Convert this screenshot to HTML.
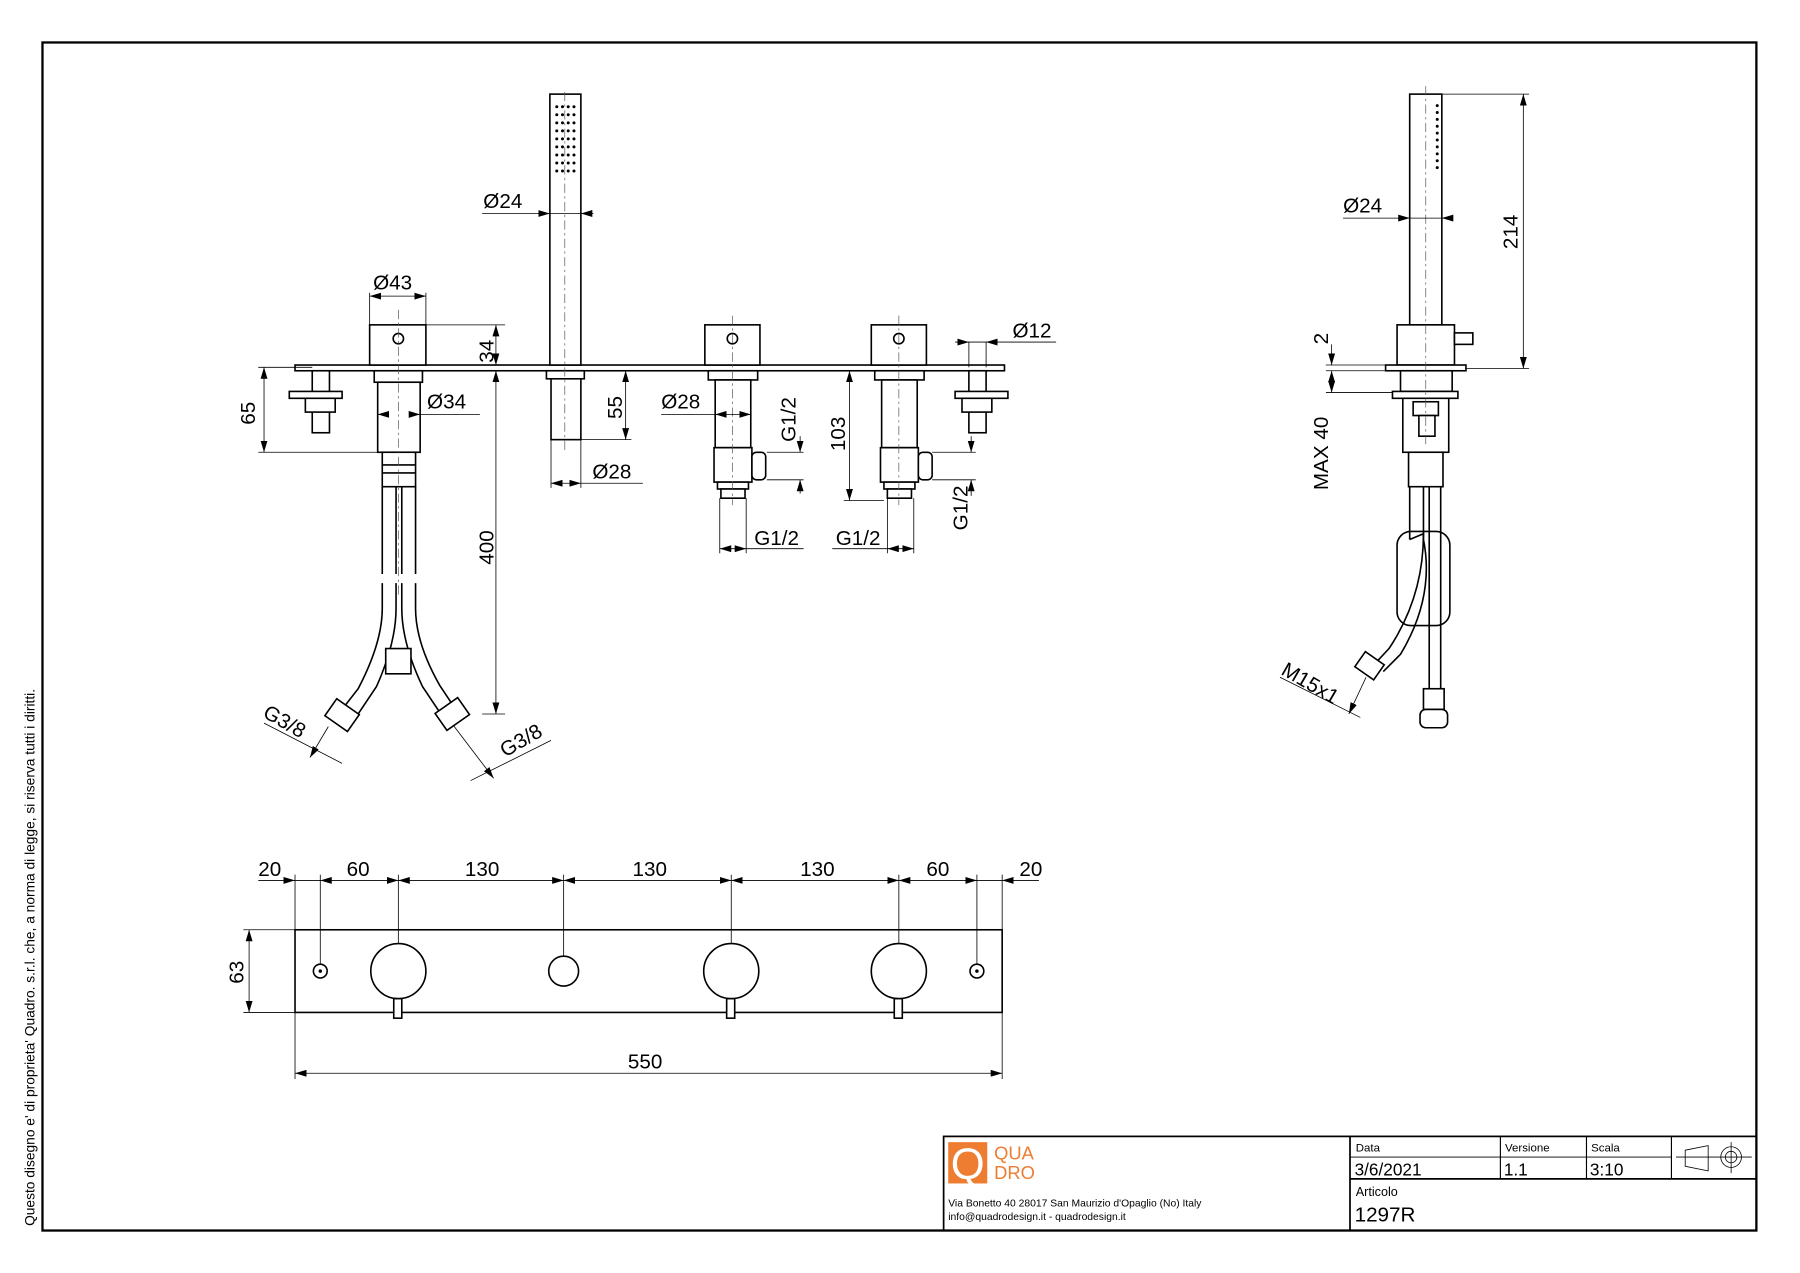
<!DOCTYPE html>
<html><head><meta charset="utf-8"><style>
html,body{margin:0;padding:0;background:#fff;}
svg{display:block;}
text{font-family:"Liberation Sans",sans-serif;fill:#000;}
.o{fill:none;stroke:#000;stroke-width:1.4}
.w{fill:#fff;stroke:#000;stroke-width:1.4}
.d{fill:none;stroke:#000;stroke-width:0.7}
.c{fill:none;stroke:#555;stroke-width:0.6;stroke-dasharray:8 3 2 3}
.t{font-size:18px}
</style></head><body>
<svg width="1800" height="1273" viewBox="0 0 1568 1109" preserveAspectRatio="none" xmlns="http://www.w3.org/2000/svg">
<defs>
<marker id="a" viewBox="0 0 10 6" refX="10" refY="3" markerWidth="10" markerHeight="6" orient="auto-start-reverse" markerUnits="userSpaceOnUse"><path d="M0,0L10,3L0,6z" fill="#000"/></marker>
</defs>
<rect x="37" y="37" width="1493" height="1035" fill="none" stroke="#000" stroke-width="2"/>
<text transform="translate(30,1068) rotate(-90)" font-size="12">Questo disegno e' di proprieta' Quadro. s.r.l. che, a norma di legge, si riserva tutti i diritti.</text>

<!-- title block -->
<rect x="822" y="990" width="708" height="82" fill="none" stroke="#000" stroke-width="1.5"/>
<line x1="1176" y1="990" x2="1176" y2="1072" stroke="#000" stroke-width="1.5"/>
<line x1="1307" y1="990" x2="1307" y2="1027" stroke="#000"/>
<line x1="1382" y1="990" x2="1382" y2="1027" stroke="#000"/>
<line x1="1456" y1="990" x2="1456" y2="1027" stroke="#000"/>
<line x1="1176" y1="1008" x2="1456" y2="1008" stroke="#000" stroke-width="0.8"/>
<line x1="1176" y1="1027" x2="1530" y2="1027" stroke="#000" stroke-width="1.5"/>
<text x="1181" y="1003" font-size="10">Data</text>
<text x="1311" y="1003" font-size="10">Versione</text>
<text x="1386" y="1003" font-size="10">Scala</text>
<text x="1180" y="1024" font-size="15">3/6/2021</text>
<text x="1310" y="1024" font-size="15">1.1</text>
<text x="1385" y="1024" font-size="15">3:10</text>
<text x="1181" y="1042" font-size="11">Articolo</text>
<text x="1180" y="1064" font-size="18">1297R</text>
<path d="M1468,1002 L1488,998 L1488,1020 L1468,1016 Z M1460,1008 H1526" class="d"/>
<circle cx="1508" cy="1008" r="9" class="d"/><circle cx="1508" cy="1008" r="5" class="d"/>
<line x1="1508" y1="995" x2="1508" y2="1022" class="d"/>
<rect x="826" y="995" width="34" height="36" fill="#ee7d32"/>
<text x="843" y="1027" font-size="38" text-anchor="middle" style="fill:#fff">Q</text>
<text x="866" y="1010" font-size="16" style="fill:#ee7d32">QUA</text>
<text x="866" y="1027" font-size="16" style="fill:#ee7d32">DRO</text>
<text x="826" y="1051" font-size="9">Via Bonetto 40  28017 San Maurizio d'Opaglio (No) Italy</text>
<text x="826" y="1063" font-size="9">info@quadrodesign.it  -  quadrodesign.it</text>

<!-- FRONT VIEW -->
<rect x="257" y="318" width="618" height="5" class="w"/>
<rect x="272" y="323" width="15" height="54" class="w"/>
<rect x="252" y="341" width="46" height="6" class="w"/>
<rect x="266" y="347" width="26" height="12" class="w"/>
<rect x="844" y="323" width="15" height="54" class="w"/>
<rect x="832" y="341" width="46" height="6" class="w"/>
<rect x="838" y="347" width="26" height="12" class="w"/>
<rect x="322" y="283" width="49" height="35" class="w"/>
<circle cx="347" cy="295" r="4.5" class="o"/>
<rect x="326" y="323" width="42" height="10" class="w"/>
<rect x="329" y="333" width="37" height="61" class="w"/>
<rect x="333" y="394" width="29" height="30" class="w"/>
<line x1="333" y1="405" x2="362" y2="405" class="o"/><line x1="333" y1="412" x2="362" y2="412" class="o"/>
<path d="M333,424 V500 M345,424 V500 M350,424 V500 M362,424 V500" class="o"/>
<path d="M333,508 V530 Q333,560 312,600 L298,618 M345,508 V530 Q345,560 328,598 L312,622" class="o"/>
<path d="M350,508 V530 Q350,560 368,598 L384,622 M362,508 V530 Q362,560 383,597 L397,618" class="o"/>
<rect x="336" y="565" width="22" height="22" class="w"/>
<g transform="translate(298,623) rotate(35)"><rect x="-12" y="-9" width="24" height="18" class="w"/></g>
<g transform="translate(394,622) rotate(-35)"><rect x="-12" y="-9" width="24" height="18" class="w"/></g>
<line x1="347" y1="270" x2="347" y2="520" class="c"/>
<rect x="479" y="82" width="27" height="236" class="w"/>
<g fill="#000">
<circle cx="485" cy="93" r="1.3"/><circle cx="490" cy="93" r="1.3"/><circle cx="495" cy="93" r="1.3"/><circle cx="500" cy="93" r="1.3"/>
<circle cx="485" cy="100" r="1.3"/><circle cx="490" cy="100" r="1.3"/><circle cx="495" cy="100" r="1.3"/><circle cx="500" cy="100" r="1.3"/>
<circle cx="485" cy="107" r="1.3"/><circle cx="490" cy="107" r="1.3"/><circle cx="495" cy="107" r="1.3"/><circle cx="500" cy="107" r="1.3"/>
<circle cx="485" cy="114" r="1.3"/><circle cx="490" cy="114" r="1.3"/><circle cx="495" cy="114" r="1.3"/><circle cx="500" cy="114" r="1.3"/>
<circle cx="485" cy="121" r="1.3"/><circle cx="490" cy="121" r="1.3"/><circle cx="495" cy="121" r="1.3"/><circle cx="500" cy="121" r="1.3"/>
<circle cx="485" cy="128" r="1.3"/><circle cx="490" cy="128" r="1.3"/><circle cx="495" cy="128" r="1.3"/><circle cx="500" cy="128" r="1.3"/>
<circle cx="485" cy="135" r="1.3"/><circle cx="490" cy="135" r="1.3"/><circle cx="495" cy="135" r="1.3"/><circle cx="500" cy="135" r="1.3"/>
<circle cx="485" cy="142" r="1.3"/><circle cx="490" cy="142" r="1.3"/><circle cx="495" cy="142" r="1.3"/><circle cx="500" cy="142" r="1.3"/>
<circle cx="485" cy="149" r="1.3"/><circle cx="490" cy="149" r="1.3"/><circle cx="495" cy="149" r="1.3"/><circle cx="500" cy="149" r="1.3"/>
</g>
<rect x="476" y="323" width="33" height="7" class="w"/>
<rect x="480" y="330" width="26" height="53" class="w"/>
<line x1="492" y1="80" x2="492" y2="395" class="c"/>
<g id="v">
<rect x="614" y="283" width="48" height="35" class="w"/>
<circle cx="638" cy="295" r="4.5" class="o"/>
<rect x="617" y="323" width="43" height="8" class="w"/>
<rect x="623" y="331" width="31" height="59" class="w"/>
<rect x="622" y="390" width="33" height="30" class="w"/>
<rect x="655" y="394" width="12" height="24" rx="4" class="w"/>
<rect x="625" y="420" width="27" height="6" class="w"/>
<rect x="628" y="426" width="21" height="8" class="w"/>
<line x1="638" y1="275" x2="638" y2="440" class="c"/>
</g>
<use href="#v" transform="translate(145,0)"/>

<g class="d">
<line x1="322" y1="255" x2="322" y2="283"/><line x1="371" y1="255" x2="371" y2="283"/>
<line x1="322" y1="258" x2="371" y2="258" marker-start="url(#a)" marker-end="url(#a)"/>
<line x1="371" y1="283" x2="440" y2="283"/><line x1="432" y1="283" x2="432" y2="318" marker-start="url(#a)" marker-end="url(#a)"/>
<line x1="432" y1="323" x2="432" y2="622" marker-start="url(#a)" marker-end="url(#a)"/><line x1="420" y1="622" x2="440" y2="622"/>
<line x1="225" y1="320" x2="272" y2="320"/><line x1="225" y1="394" x2="329" y2="394"/>
<line x1="230" y1="320" x2="230" y2="394" marker-start="url(#a)" marker-end="url(#a)"/>
<line x1="360" y1="361" x2="418" y2="361"/><line x1="360" y1="361" x2="366" y2="361" marker-end="url(#a)"/><line x1="335" y1="361" x2="329" y2="361" marker-end="url(#a)"/>
<line x1="420" y1="186" x2="517" y2="186"/><line x1="470" y1="186" x2="479" y2="186" marker-end="url(#a)"/><line x1="515" y1="186" x2="506" y2="186" marker-end="url(#a)"/>
<line x1="509" y1="323" x2="550" y2="323"/><line x1="506" y1="383" x2="550" y2="383"/>
<line x1="545" y1="323" x2="545" y2="383" marker-start="url(#a)" marker-end="url(#a)"/>
<line x1="480" y1="383" x2="480" y2="425"/><line x1="506" y1="383" x2="506" y2="425"/>
<line x1="480" y1="421" x2="506" y2="421" marker-start="url(#a)" marker-end="url(#a)"/><line x1="506" y1="421" x2="560" y2="421"/>
<line x1="576" y1="361" x2="654" y2="361"/><line x1="630" y1="361" x2="623" y2="361" marker-end="url(#a)"/><line x1="646" y1="361" x2="654" y2="361" marker-end="url(#a)"/>
<line x1="668" y1="394" x2="700" y2="394"/><line x1="668" y1="418" x2="700" y2="418"/>
<line x1="697" y1="380" x2="697" y2="394" marker-end="url(#a)"/><line x1="697" y1="430" x2="697" y2="418" marker-end="url(#a)"/>
<line x1="627" y1="434" x2="627" y2="482"/><line x1="650" y1="434" x2="650" y2="482"/>
<line x1="627" y1="478" x2="650" y2="478" marker-start="url(#a)" marker-end="url(#a)"/><line x1="650" y1="478" x2="700" y2="478"/>
<line x1="773" y1="434" x2="773" y2="482"/><line x1="796" y1="434" x2="796" y2="482"/>
<line x1="773" y1="478" x2="796" y2="478" marker-start="url(#a)" marker-end="url(#a)"/><line x1="725" y1="478" x2="773" y2="478"/>
<line x1="740" y1="323" x2="768" y2="323"/><line x1="735" y1="436" x2="770" y2="436"/>
<line x1="740" y1="323" x2="740" y2="436" marker-start="url(#a)" marker-end="url(#a)"/>
<line x1="812" y1="394" x2="850" y2="394"/><line x1="812" y1="418" x2="850" y2="418"/>
<line x1="846" y1="380" x2="846" y2="394" marker-end="url(#a)"/><line x1="846" y1="432" x2="846" y2="418" marker-end="url(#a)"/>
<line x1="832" y1="298" x2="920" y2="298"/><line x1="835" y1="298" x2="844" y2="298" marker-end="url(#a)"/><line x1="868" y1="298" x2="859" y2="298" marker-end="url(#a)"/>
<line x1="844" y1="298" x2="844" y2="320"/><line x1="859" y1="298" x2="859" y2="320"/>
<line x1="230" y1="630" x2="298" y2="665" /><line x1="286" y1="633" x2="270" y2="660" marker-end="url(#a)"/>
<line x1="395" y1="632" x2="430" y2="678" marker-end="url(#a)"/><line x1="410" y1="680" x2="480" y2="645"/>
</g>
<text class="t" x="325" y="252">Ø43</text>
<text class="t" transform="translate(430,316) rotate(-90)">34</text>
<text class="t" transform="translate(222,370) rotate(-90)">65</text>
<text class="t" x="372" y="356">Ø34</text>
<text class="t" x="421" y="181">Ø24</text>
<text class="t" transform="translate(542,365) rotate(-90)">55</text>
<text class="t" x="516" y="417">Ø28</text>
<text class="t" transform="translate(430,492) rotate(-90)">400</text>
<text class="t" x="576" y="356">Ø28</text>
<text class="t" transform="translate(693,385) rotate(-90)">G1/2</text>
<text class="t" x="657" y="475">G1/2</text>
<text class="t" x="728" y="475">G1/2</text>
<text class="t" transform="translate(736,393) rotate(-90)">103</text>
<text class="t" transform="translate(843,462) rotate(-90)">G1/2</text>
<text class="t" x="882" y="294">Ø12</text>
<text class="t" transform="translate(228,624) rotate(30)">G3/8</text>
<text class="t" transform="translate(440,660) rotate(-30)">G3/8</text>

<!-- SIDE VIEW -->
<rect x="1228" y="82" width="28" height="201" class="w"/>
<g fill="#000"><circle cx="1252" cy="92" r="1.3"/><circle cx="1252" cy="98" r="1.3"/><circle cx="1252" cy="104" r="1.3"/><circle cx="1252" cy="110" r="1.3"/><circle cx="1252" cy="116" r="1.3"/><circle cx="1252" cy="122" r="1.3"/><circle cx="1252" cy="128" r="1.3"/><circle cx="1252" cy="134" r="1.3"/><circle cx="1252" cy="140" r="1.3"/><circle cx="1252" cy="146" r="1.3"/></g>
<rect x="1217" y="283" width="50" height="35" class="w"/>
<rect x="1267" y="290" width="16" height="10" class="w"/>
<rect x="1207" y="318" width="70" height="5" class="w"/>
<rect x="1220" y="323" width="45" height="18" class="w"/>
<rect x="1213" y="341" width="57" height="6" class="w"/>
<rect x="1222" y="347" width="40" height="47" class="w"/>
<rect x="1231" y="350" width="22" height="12" class="w"/>
<rect x="1236" y="362" width="14" height="18" class="w"/>
<rect x="1227" y="394" width="30" height="30" class="w"/>
<path d="M1228,424 V470 M1240,424 V470 M1245,424 V600 M1255,424 V600" class="o"/>
<rect x="1217" y="463" width="46" height="82" rx="12" class="o"/>
<path d="M1228,470 L1240,465 Q1240,520 1210,565 L1196,580 M1240,470 Q1250,520 1220,570 L1205,585" class="o"/>
<g transform="translate(1193,580) rotate(35)"><rect x="-10" y="-8" width="20" height="16" class="w"/></g>
<rect x="1240" y="600" width="18" height="18" class="w"/>
<rect x="1237" y="618" width="24" height="16" rx="5" class="w"/>
<line x1="1242" y1="75" x2="1242" y2="390" class="c"/>
<g class="d">
<line x1="1256" y1="82" x2="1332" y2="82"/><line x1="1277" y1="321" x2="1332" y2="321"/>
<line x1="1327" y1="82" x2="1327" y2="321" marker-start="url(#a)" marker-end="url(#a)"/>
<line x1="1170" y1="190" x2="1256" y2="190"/><line x1="1218" y1="190" x2="1228" y2="190" marker-end="url(#a)"/><line x1="1266" y1="190" x2="1256" y2="190" marker-end="url(#a)"/>
<line x1="1155" y1="318" x2="1207" y2="318"/><line x1="1155" y1="323" x2="1207" y2="323"/><line x1="1155" y1="342" x2="1213" y2="342"/>
<line x1="1160" y1="300" x2="1160" y2="318" marker-end="url(#a)"/><line x1="1160" y1="323" x2="1160" y2="342" marker-start="url(#a)" marker-end="url(#a)"/>
<line x1="1115" y1="590" x2="1185" y2="625"/><line x1="1190" y1="590" x2="1175" y2="622" marker-end="url(#a)"/>
</g>
<text class="t" x="1170" y="185">Ø24</text>
<text class="t" transform="translate(1322,217) rotate(-90)">214</text>
<text class="t" transform="translate(1157,300) rotate(-90)">2</text>
<text class="t" transform="translate(1157,427) rotate(-90)">MAX  40</text>
<text class="t" transform="translate(1115,587) rotate(30)">M15x1</text>

<!-- PLAN VIEW -->
<rect x="257" y="810" width="616" height="72" class="o"/>
<circle cx="279" cy="846" r="6" class="o"/><circle cx="279" cy="846" r="1.5" fill="#000"/>
<circle cx="851" cy="846" r="6" class="o"/><circle cx="851" cy="846" r="1.5" fill="#000"/>
<circle cx="347" cy="846" r="24" class="o"/><rect x="343" y="870" width="7" height="17" class="w"/>
<circle cx="491" cy="846" r="13" class="o"/>
<circle cx="637" cy="846" r="24" class="o"/><rect x="633" y="870" width="7" height="17" class="w"/>
<circle cx="783" cy="846" r="24" class="o"/><rect x="779" y="870" width="7" height="17" class="w"/>
<g class="d">
<line x1="257" y1="762" x2="257" y2="940"/><line x1="873" y1="762" x2="873" y2="940"/>
<line x1="279" y1="762" x2="279" y2="840"/><line x1="347" y1="762" x2="347" y2="822"/><line x1="491" y1="762" x2="491" y2="833"/>
<line x1="637" y1="762" x2="637" y2="822"/><line x1="783" y1="762" x2="783" y2="822"/><line x1="851" y1="762" x2="851" y2="840"/>
<line x1="225" y1="767" x2="257" y2="767" marker-end="url(#a)"/><line x1="905" y1="767" x2="873" y2="767" marker-end="url(#a)"/>
<line x1="257" y1="767" x2="279" y2="767"/><line x1="851" y1="767" x2="873" y2="767"/>
<line x1="279" y1="767" x2="347" y2="767" marker-start="url(#a)" marker-end="url(#a)"/>
<line x1="347" y1="767" x2="491" y2="767" marker-start="url(#a)" marker-end="url(#a)"/>
<line x1="491" y1="767" x2="637" y2="767" marker-start="url(#a)" marker-end="url(#a)"/>
<line x1="637" y1="767" x2="783" y2="767" marker-start="url(#a)" marker-end="url(#a)"/>
<line x1="783" y1="767" x2="851" y2="767" marker-start="url(#a)" marker-end="url(#a)"/>
<line x1="212" y1="810" x2="257" y2="810"/><line x1="212" y1="882" x2="257" y2="882"/>
<line x1="217" y1="810" x2="217" y2="882" marker-start="url(#a)" marker-end="url(#a)"/>
<line x1="257" y1="935" x2="873" y2="935" marker-start="url(#a)" marker-end="url(#a)"/>
</g>
<text class="t" x="225" y="763">20</text>
<text class="t" x="302" y="763">60</text>
<text class="t" x="405" y="763">130</text>
<text class="t" x="551" y="763">130</text>
<text class="t" x="697" y="763">130</text>
<text class="t" x="807" y="763">60</text>
<text class="t" x="888" y="763">20</text>
<text class="t" transform="translate(212,857) rotate(-90)">63</text>
<text class="t" x="547" y="931">550</text>
</svg>
</body></html>
